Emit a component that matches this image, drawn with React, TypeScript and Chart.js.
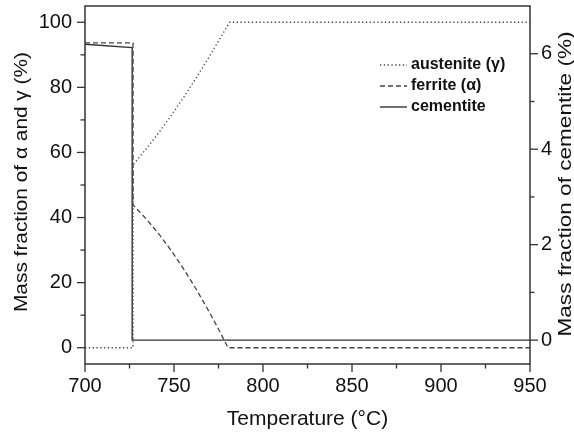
import { useEffect, useRef } from "react";
import { Chart, registerables } from "chart.js";

Chart.register(...registerables);

// Phase fractions vs temperature (equilibrium calculation)
const austeniteT = [700, 727, 727, 735, 742, 749, 756, 763, 770, 776, 781.3, 950];
const austeniteMass = [0, 0, 56.2, 61.5, 66.5, 71.8, 77.4, 83.4, 89.6, 95.2, 100, 100];

const ferriteT = [700, 727, 727, 735, 742, 749, 756, 763, 770, 776, 780.3, 950];
const ferriteMass = [93.7, 93.7, 43.9, 39.2, 34.6, 29.4, 23.7, 17.5, 10.8, 4.7, 0, 0];

const cementiteT = [700, 726.5, 726.5, 950];
const cementiteMass = [6.2, 6.13, 0, 0];

const seriesLabels = ["austenite (\u03b3)", "ferrite (\u03b1)", "cementite"];
const leftTitle = "Mass fraction of \u03b1 and \u03b3 (%)";
const rightTitle = "Mass fraction of cementite (%)";

// Axis ticks
const xMajor = [700, 750, 800, 850, 900, 950];
const xMinor = [725, 775, 825, 875, 925];
const leftMajor = [0, 20, 40, 60, 80, 100];
const leftMinor = [10, 30, 50, 70, 90];
const rightMajor = [0, 2, 4, 6];
const rightMinor = [1, 3, 5];

const FONT = "'Liberation Sans', Arial, Helvetica, sans-serif";
const INK = "#333333";

const toPoints = (xs: number[], ys: number[]) => xs.map((x, i) => ({ x, y: ys[i] }));

// vertical title, reading bottom to top, stretched along its length to the given span
function drawVerticalTitle(ctx: any, text: string, cx: number, cy: number, span: number) {
  ctx.save();
  ctx.font = `19px ${FONT}`;
  const w = ctx.measureText(text).width;
  ctx.translate(cx, cy);
  ctx.rotate(-Math.PI / 2);
  ctx.scale(span / w, 1);
  ctx.fillStyle = "#111";
  ctx.textAlign = "center";
  ctx.textBaseline = "middle";
  ctx.fillText(text, 0, 0);
  ctx.restore();
}

const frameAndTicks = {
  id: "frameAndTicks",
  afterDatasetsDraw(chart: any) {
    const { ctx, chartArea, scales } = chart;
    const { left, right, top, bottom } = chartArea;
    ctx.save();
    ctx.strokeStyle = INK;
    ctx.lineWidth = 1.5;
    ctx.setLineDash([]);
    ctx.strokeRect(left, top, right - left, bottom - top);

    ctx.lineWidth = 1.3;
    const seg = (x1: number, y1: number, x2: number, y2: number) => {
      ctx.beginPath();
      ctx.moveTo(x1, y1);
      ctx.lineTo(x2, y2);
      ctx.stroke();
    };
    xMajor.forEach((v) => {
      const p = scales.x.getPixelForValue(v);
      seg(p, bottom, p, bottom + 8);
    });
    xMinor.forEach((v) => {
      const p = scales.x.getPixelForValue(v);
      seg(p, bottom, p, bottom + 4.5);
    });
    leftMajor.forEach((v) => {
      const p = scales.y.getPixelForValue(v);
      seg(left, p, left - 8, p);
    });
    leftMinor.forEach((v) => {
      const p = scales.y.getPixelForValue(v);
      seg(left, p, left - 4.5, p);
    });
    rightMajor.forEach((v) => {
      const p = scales.y2.getPixelForValue(v);
      seg(right, p, right + 8, p);
    });
    rightMinor.forEach((v) => {
      const p = scales.y2.getPixelForValue(v);
      seg(right, p, right + 4.5, p);
    });

    // axis titles for the two vertical scales
    drawVerticalTitle(ctx, leftTitle, 22, 182, 260);
    drawVerticalTitle(ctx, rightTitle, 566, 184, 305);

    // legend in the upper right of the plot
    const lx = 380;
    const ly = 65;
    const row = 21;
    ctx.font = `bold 16px ${FONT}`;
    ctx.textBaseline = "middle";
    ctx.textAlign = "left";
    ctx.fillStyle = "#111";
    chart.data.datasets.forEach((ds: any, i: number) => {
      const y = ly + i * row;
      ctx.strokeStyle = ds.borderColor;
      ctx.lineWidth = ds.borderWidth;
      ctx.setLineDash(ds.borderDash || []);
      seg(lx, y, lx + 27, y);
      ctx.setLineDash([]);
      ctx.fillText(ds.label, lx + 31, y);
    });
    ctx.restore();
  },
};

const noEdgePadding = (s: any) => {
  s.paddingTop = 0;
  s.paddingBottom = 0;
  s.paddingLeft = 0;
  s.paddingRight = 0;
};

export default function App() {
  const canvasRef = useRef<HTMLCanvasElement | null>(null);

  useEffect(() => {
    if (!canvasRef.current) return;
    const chart = new Chart(canvasRef.current, {
      type: "line",
      data: {
        datasets: [
          {
            label: seriesLabels[0],
            data: toPoints(austeniteT, austeniteMass),
            yAxisID: "y",
            borderColor: "#444",
            borderWidth: 1.3,
            borderDash: [1.3, 2.5],
            pointRadius: 0,
            fill: false,
            tension: 0,
          },
          {
            label: seriesLabels[1],
            data: toPoints(ferriteT, ferriteMass),
            yAxisID: "y",
            borderColor: "#444",
            borderWidth: 1.3,
            borderDash: [5, 3],
            pointRadius: 0,
            fill: false,
            tension: 0,
          },
          {
            label: seriesLabels[2],
            data: toPoints(cementiteT, cementiteMass),
            yAxisID: "y2",
            borderColor: "#333",
            borderWidth: 1.4,
            borderDash: [],
            pointRadius: 0,
            fill: false,
            tension: 0,
          },
        ],
      },
      options: {
        animation: false,
        responsive: true,
        maintainAspectRatio: false,
        devicePixelRatio: 1,
        layout: { padding: { top: 6, left: 0, right: 0, bottom: 0 } },
        plugins: { legend: { display: false }, tooltip: { enabled: false } },
        scales: {
          x: {
            type: "linear",
            min: 700,
            max: 950,
            afterBuildTicks: (s: any) => {
              s.ticks = xMajor.map((value) => ({ value }));
            },
            afterFit: (s: any) => {
              s.height = 72;
              noEdgePadding(s);
            },
            grid: { display: false, drawTicks: false },
            border: { display: false },
            ticks: { color: "#111", padding: 10, maxRotation: 0, font: { family: FONT, size: 20 } },
            title: {
              display: true,
              text: "Temperature (\u00b0C)",
              color: "#111",
              font: { family: FONT, size: 21 },
              padding: { top: 0, bottom: 4 },
            },
          },
          y: {
            type: "linear",
            position: "left",
            min: -5,
            max: 105,
            afterBuildTicks: (s: any) => {
              s.ticks = leftMajor.map((value) => ({ value }));
            },
            afterFit: (s: any) => {
              s.width = 85;
              noEdgePadding(s);
            },
            grid: { display: false, drawTicks: false },
            border: { display: false },
            ticks: { color: "#111", padding: 13, font: { family: FONT, size: 20 } },
            title: { display: false },
          },
          y2: {
            type: "linear",
            position: "right",
            min: -0.5,
            max: 7,
            afterBuildTicks: (s: any) => {
              s.ticks = rightMajor.map((value) => ({ value }));
            },
            afterFit: (s: any) => {
              s.width = 44;
              noEdgePadding(s);
            },
            grid: { display: false, drawTicks: false },
            border: { display: false },
            ticks: { color: "#111", padding: 11, font: { family: FONT, size: 20 } },
            title: { display: false },
          },
        },
      },
      plugins: [frameAndTicks],
    });
    return () => chart.destroy();
  }, []);

  return (
    <div style={{ position: "absolute", left: 0, top: 0, width: 574, height: 436, background: "#fff" }}>
      <canvas ref={canvasRef} />
    </div>
  );
}
